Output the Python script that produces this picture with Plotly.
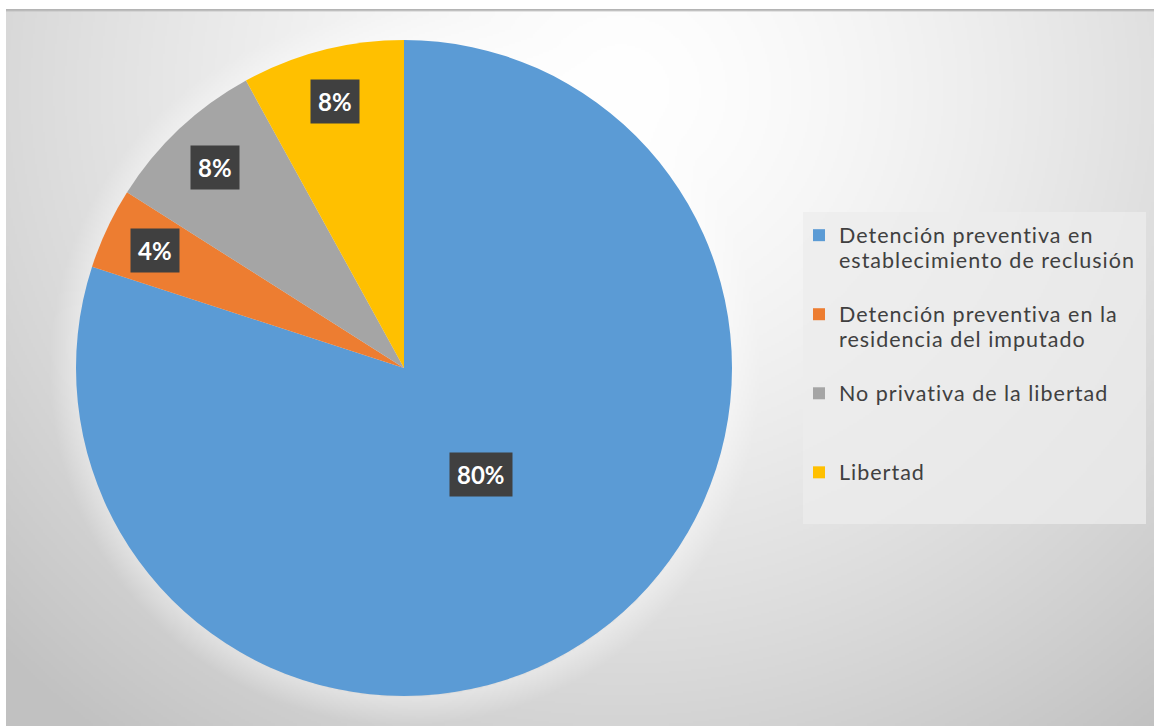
import base64
import math
import struct
import zlib

import numpy as np
import plotly.graph_objects as go

# ---- data -------------------------------------------------------------
CATEGORIES = [
    "Detención preventiva en<br>establecimiento de reclusión",
    "Detención preventiva en la<br>residencia del imputado",
    "No privativa de la libertad",
    "Libertad",
]
VALUES = [80, 4, 8, 8]
COLORS = ["#5B9BD5", "#ED7D31", "#A5A5A5", "#FFC000"]

# ---- canvas / geometry ------------------------------------------------
W, H = 1154, 726
PIE_CX, PIE_CY, PIE_R = 404, 368, 328          # pixels
FRAME_X0, FRAME_Y0 = 6, 9                        # chart area frame
LEGEND_FONT = 19.5                               # sets entry spacing
LEGEND_GLYPH = 21.5                              # visible glyph size


def legend_text(name):
    # every entry takes three legend lines so the entries are evenly spaced
    lines = name.split("<br>")
    lines += [" "] * (3 - len(lines))
    style = f"font-size:{LEGEND_GLYPH}px;letter-spacing:1px"
    return "<br>".join(f"<span style='{style}'>{ln}</span>" for ln in lines)


def make_png(rgb):
    h, w, _ = rgb.shape
    raw = b"".join(b"\x00" + rgb[y].tobytes() for y in range(h))

    def chunk(tag, data):
        c = struct.pack(">I", len(data)) + tag + data
        return c + struct.pack(">I", zlib.crc32(tag + data) & 0xFFFFFFFF)

    return (b"\x89PNG\r\n\x1a\n"
            + chunk(b"IHDR", struct.pack(">IIBBBBB", w, h, 8, 2, 0, 0, 0))
            + chunk(b"IDAT", zlib.compress(raw, 9))
            + chunk(b"IEND", b""))


def background_uri():
    # soft radial grey gradient with a faint glow around the pie
    s = 2
    fw, fh = (W - FRAME_X0) // s, (H - FRAME_Y0) // s
    yy, xx = np.mgrid[0:fh, 0:fw].astype(float)
    px = xx * s + FRAME_X0
    py = yy * s + FRAME_Y0
    d = np.hypot((px - 620) / 1.0, (py - 90) / 0.95)
    t = np.clip(d / 860.0, 0, 1)
    val = 255 - 62 * t ** 1.45
    rp = np.hypot(px - PIE_CX, py - PIE_CY)
    glow = np.clip(1 - (rp - PIE_R) / 28.0, 0, 1) * (rp > PIE_R - 2)
    val = val + (255 - val) * 0.35 * glow
    val[0, :] = 180
    img = np.clip(val, 0, 255).astype(np.uint8)
    rgb = np.stack([img, img, img], axis=-1)
    return "data:image/png;base64," + base64.b64encode(make_png(rgb)).decode()


# ---- figure -----------------------------------------------------------
fig = go.Figure()

fig.add_trace(go.Pie(
    labels=[legend_text(c) for c in CATEGORIES],
    values=VALUES,
    sort=False,
    direction="clockwise",
    rotation=0,
    marker=dict(colors=COLORS, line=dict(width=0)),
    textinfo="none",
    hoverinfo="percent",
    domain=dict(
        x=[(PIE_CX - PIE_R) / W, (PIE_CX + PIE_R) / W],
        y=[1 - (PIE_CY + PIE_R) / H, 1 - (PIE_CY - PIE_R) / H],
    ),
))

# percentage labels in dark boxes, placed at each slice's mid-angle
total = sum(VALUES)
cum = 0
annotations = []
for v in VALUES:
    share = v / total
    theta = 2 * math.pi * (cum + v / 2) / total
    cum += v
    rf = 0.40 if share > 0.5 else 0.84
    x_pix = PIE_CX + rf * PIE_R * math.sin(theta)
    y_pix = PIE_CY - rf * PIE_R * math.cos(theta)
    annotations.append(dict(
        text=f"<b>{round(share * 100)}%</b>",
        x=x_pix / W, y=1 - y_pix / H, xref="paper", yref="paper",
        xanchor="center", yanchor="middle", showarrow=False,
        bgcolor="#404040", borderpad=7,
        font=dict(family="Lato", size=24, color="white"),
    ))

fig.update_layout(
    width=W,
    height=H,
    margin=dict(l=0, r=0, t=0, b=0),
    paper_bgcolor="white",
    plot_bgcolor="white",
    images=[dict(
        source=background_uri(),
        xref="paper", yref="paper",
        x=FRAME_X0 / W, y=1 - FRAME_Y0 / H,
        sizex=1 - FRAME_X0 / W, sizey=1 - FRAME_Y0 / H,
        xanchor="left", yanchor="top",
        sizing="stretch", layer="below",
    )],
    shapes=[dict(
        type="rect", xref="paper", yref="paper",
        x0=803 / W, x1=1146 / W, y0=1 - 524 / H, y1=1 - 212 / H,
        fillcolor="rgba(236,236,236,0.75)", line=dict(width=0),
        layer="below",
    )],
    legend=dict(
        x=799 / W, y=1 - 216 / H,
        xanchor="left", yanchor="top",
        bgcolor="rgba(0,0,0,0)",
        valign="top",
        font=dict(family="Lato", size=LEGEND_FONT, color="#404040"),
    ),
    annotations=annotations,
    showlegend=True,
)

fig.write_html("out.html")
